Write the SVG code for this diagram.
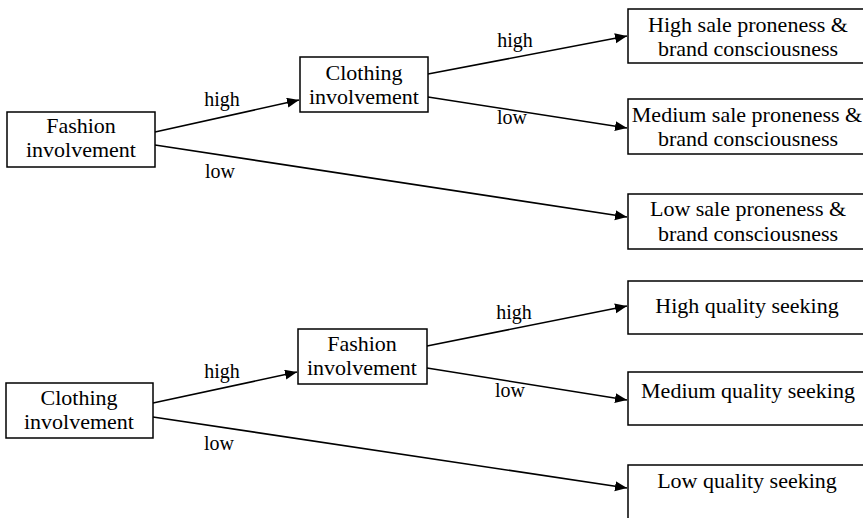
<svg xmlns="http://www.w3.org/2000/svg" width="863" height="518" viewBox="0 0 863 518">
<style>
.box{fill:#fff;stroke:#000;stroke-width:1.5}
.t{font-size:22px;fill:#000;text-anchor:middle}
.lbl{font-size:20px;fill:#000;text-anchor:middle}
.edge{stroke:#000;stroke-width:1.6;fill:none;marker-end:url(#ah)}
</style>
<defs>
<marker id="ah" markerUnits="userSpaceOnUse" markerWidth="13" markerHeight="11" refX="12" refY="5" orient="auto">
<path d="M0,0 L12,5 L0,10 z" fill="#000"/>
</marker>
</defs>
<rect width="863" height="518" fill="#fff"/>
<g font-family="Liberation Serif, DejaVu Serif, serif">
<g id="connectors">
<line class="edge" x1="155" y1="132" x2="299" y2="100"/>
<line class="edge" x1="155" y1="145" x2="627" y2="217"/>
<line class="edge" x1="428" y1="74" x2="627" y2="36"/>
<line class="edge" x1="428" y1="97" x2="627" y2="128"/>
<line class="edge" x1="153" y1="403" x2="297" y2="372"/>
<line class="edge" x1="153" y1="417" x2="627" y2="488"/>
<line class="edge" x1="427" y1="346" x2="627" y2="306"/>
<line class="edge" x1="427" y1="368" x2="627" y2="400"/>
<text class="lbl" x="222" y="106">high</text>
<text class="lbl" x="220" y="178">low</text>
<text class="lbl" x="515" y="47">high</text>
<text class="lbl" x="512" y="124">low</text>
<text class="lbl" x="222" y="378">high</text>
<text class="lbl" x="219" y="450">low</text>
<text class="lbl" x="514" y="319">high</text>
<text class="lbl" x="510" y="397">low</text>
</g>
<g id="n1">
<rect class="box" x="7" y="112" width="148" height="55"/>
<text class="t" x="81" y="133">Fashion</text>
<text class="t" x="81" y="157">involvement</text>
</g>
<g id="n2">
<rect class="box" x="300" y="57" width="128" height="55"/>
<text class="t" x="364" y="80">Clothing</text>
<text class="t" x="364" y="104">involvement</text>
</g>
<g id="n3">
<rect class="box" x="628" y="9" width="240" height="54"/>
<text class="t" x="748" y="32">High sale proneness &amp;</text>
<text class="t" x="748" y="56">brand consciousness</text>
</g>
<g id="n4">
<rect class="box" x="628" y="99" width="240" height="55"/>
<text class="t" x="747" y="122">Medium sale proneness &amp;</text>
<text class="t" x="748" y="146">brand consciousness</text>
</g>
<g id="n5">
<rect class="box" x="628" y="194" width="240" height="55"/>
<text class="t" x="748" y="216">Low sale proneness &amp;</text>
<text class="t" x="748" y="241">brand consciousness</text>
</g>
<g id="n6">
<rect class="box" x="6" y="383" width="147" height="55"/>
<text class="t" x="79" y="405">Clothing</text>
<text class="t" x="79" y="429">involvement</text>
</g>
<g id="n7">
<rect class="box" x="298" y="329" width="129" height="55"/>
<text class="t" x="362" y="351">Fashion</text>
<text class="t" x="362" y="375">involvement</text>
</g>
<g id="n8">
<rect class="box" x="628" y="281" width="240" height="53"/>
<text class="t" x="747" y="313">High quality seeking</text>
</g>
<g id="n9">
<rect class="box" x="628" y="372" width="240" height="53"/>
<text class="t" x="748" y="398">Medium quality seeking</text>
</g>
<g id="n10">
<rect class="box" x="628" y="465" width="240" height="60"/>
<text class="t" x="747" y="488">Low quality seeking</text>
</g>
</g>
</svg>
